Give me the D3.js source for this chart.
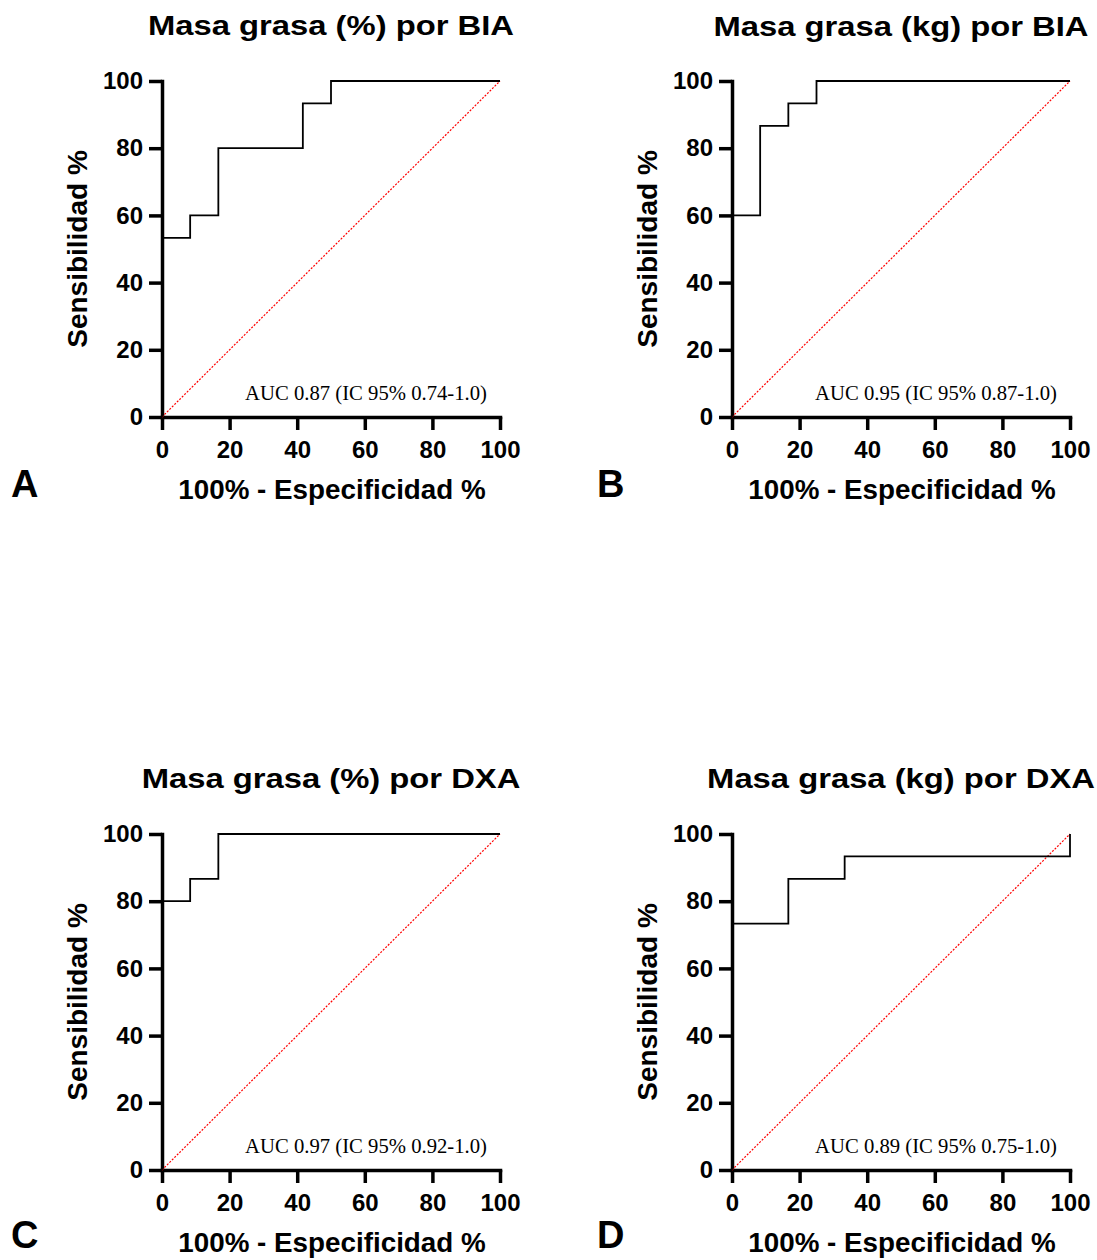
<!DOCTYPE html>
<html>
<head>
<meta charset="utf-8">
<script src="https://cdn.jsdelivr.net/npm/d3@7"></script>
<style>
  body { margin: 0; background: #fff; }
  svg { display: block; }
</style>
</head>
<body>
<svg id="chart" width="1097" height="1260"></svg>
<script>
// ROC curves (100% - especificidad vs sensibilidad)
const panelLetters = ["A", "B", "C", "D"];
const titles = [
  "Masa grasa (%) por BIA",
  "Masa grasa (kg) por BIA",
  "Masa grasa (%) por DXA",
  "Masa grasa (kg) por DXA"
];
const aucLabels = [
  "AUC 0.87 (IC 95% 0.74-1.0)",
  "AUC 0.95 (IC 95% 0.87-1.0)",
  "AUC 0.97 (IC 95% 0.92-1.0)",
  "AUC 0.89 (IC 95% 0.75-1.0)"
];

const fprA = [0, 0, 8.33, 16.67, 41.67, 50, 100];
const tprA = [0, 53.33, 60, 80, 93.33, 100, 100];

const fprB = [0, 0, 8.33, 16.67, 25, 100];
const tprB = [0, 60, 86.67, 93.33, 100, 100];

const fprC = [0, 0, 8.33, 16.67, 100];
const tprC = [0, 80, 86.67, 100, 100];

const fprD = [0, 0, 16.67, 33.33, 100];
const tprD = [0, 73.33, 86.67, 93.33, 100];

const tickValues = [0, 20, 40, 60, 80, 100];

const curves = [
  [fprA, tprA],
  [fprB, tprB],
  [fprC, tprC],
  [fprD, tprD]
];

// layout of the four panels
const lefts = [162, 732, 162, 732];
const tops = [81, 81, 834, 834];
const titleBase = [35, 36, 788, 788];
const letterX = [11, 597, 11, 597];
const letterY = [497, 497, 1248, 1248];
const plotW = 338;
const plotH = 336;

const svg = d3.select("#chart");

curves.forEach((c, i) => {
  const g = svg.append("g")
    .attr("transform", `translate(${lefts[i]},${tops[i]})`);

  const x = d3.scaleLinear().domain([0, 100]).range([0, plotW]);
  const y = d3.scaleLinear().domain([0, 100]).range([plotH, 0]);

  // axes
  const xAxisGroup = g.append("g")
    .attr("transform", `translate(0,${plotH})`)
    .call(d3.axisBottom(x).tickValues(tickValues).tickSize(13).tickSizeOuter(0).tickPadding(11));
  const yAxisGroup = g.append("g")
    .call(d3.axisLeft(y).tickValues(tickValues).tickSize(13).tickSizeOuter(0).tickPadding(6));

  [xAxisGroup, yAxisGroup].forEach(ax => {
    ax.select(".domain")
      .attr("stroke", "#000")
      .attr("stroke-width", 3.5)
      .attr("stroke-linecap", "square");
    ax.selectAll(".tick line")
      .attr("stroke", "#000")
      .attr("stroke-width", 3.5);
    ax.selectAll("text")
      .attr("fill", "#000")
      .attr("font-family", "Liberation Sans, Arial, sans-serif")
      .attr("font-weight", "bold")
      .attr("font-size", 24);
  });

  // chance line
  g.append("line")
    .attr("x1", x(0)).attr("y1", y(0))
    .attr("x2", x(100)).attr("y2", y(100))
    .attr("stroke", "#ff0000")
    .attr("stroke-width", 1.2)
    .attr("stroke-dasharray", "2,1.5");

  // ROC step curve
  const pts = c[0].map((f, k) => [f, c[1][k]]);
  const line = d3.line()
    .x(d => x(d[0]))
    .y(d => y(d[1]))
    .curve(d3.curveStepAfter);
  g.append("path")
    .datum(pts)
    .attr("d", line)
    .attr("fill", "none")
    .attr("stroke", "#000")
    .attr("stroke-width", 1.8);

  // AUC note
  g.append("text")
    .attr("x", plotW - 13)
    .attr("y", plotH - 17)
    .attr("text-anchor", "end")
    .attr("font-family", "Liberation Serif, Times New Roman, serif")
    .attr("font-size", 20.7)
    .attr("fill", "#000")
    .text(aucLabels[i]);

  // title, glyphs a bit wide as in the original figure
  svg.append("g")
    .attr("transform", `translate(${lefts[i] + plotW / 2},${titleBase[i]}) scale(1.15,1)`)
    .append("text")
    .attr("text-anchor", "middle")
    .attr("font-family", "Liberation Sans, Arial, sans-serif")
    .attr("font-weight", "bold")
    .attr("font-size", 28.5)
    .attr("fill", "#000")
    .text(titles[i]);

  // axis labels
  svg.append("text")
    .attr("x", lefts[i] + plotW / 2 + 1)
    .attr("y", tops[i] + plotH + 82)
    .attr("text-anchor", "middle")
    .attr("font-family", "Liberation Sans, Arial, sans-serif")
    .attr("font-weight", "bold")
    .attr("font-size", 27.8)
    .attr("fill", "#000")
    .text("100% - Especificidad %");

  svg.append("text")
    .attr("transform", `translate(${lefts[i] - 75},${tops[i] + plotH / 2}) rotate(-90)`)
    .attr("text-anchor", "middle")
    .attr("font-family", "Liberation Sans, Arial, sans-serif")
    .attr("font-weight", "bold")
    .attr("font-size", 28)
    .attr("fill", "#000")
    .text("Sensibilidad %");

  // panel letter
  svg.append("text")
    .attr("x", letterX[i])
    .attr("y", letterY[i])
    .attr("font-family", "Liberation Sans, Arial, sans-serif")
    .attr("font-weight", "bold")
    .attr("font-size", 38)
    .attr("fill", "#000")
    .text(panelLetters[i]);
});
</script>
</body>
</html>
